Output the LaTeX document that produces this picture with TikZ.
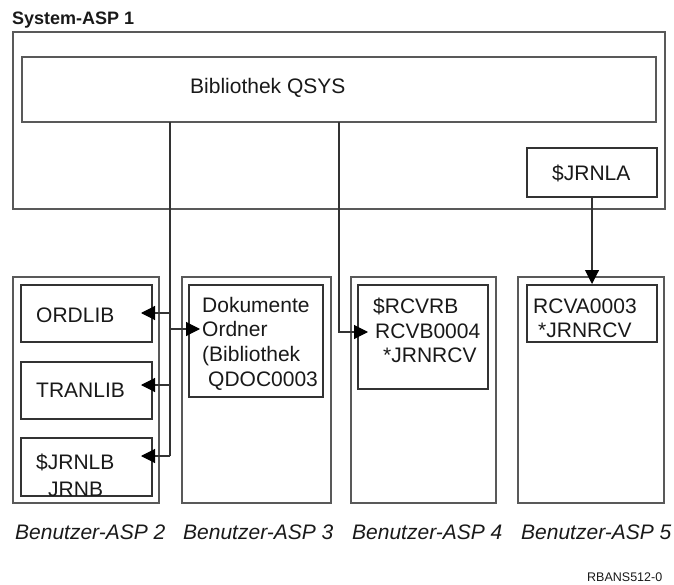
\documentclass[tikz,border=0pt]{standalone}
\usepackage{fontspec}
\setmainfont{Liberation Sans}
\usetikzlibrary{arrows.meta}
\begin{document}
\begin{tikzpicture}[x=1pt,y=-1pt,
  outerbox/.style={draw=black!65,line width=1.3pt,inner sep=0pt,outer sep=0pt,anchor=north west},
  innerbox/.style={draw=black!80,line width=1.1pt,inner sep=0pt,outer sep=0pt,anchor=north west},
  txt/.style={anchor=base west,inner sep=0pt,text=black!90,font=\fontsize{21}{25}\selectfont},
  lbl/.style={txt,font=\fontsize{21}{25}\selectfont\itshape},
  conn/.style={draw=black!80,line width=1.1pt},
  arr/.style={conn,-{Triangle[length=14pt,width=14pt,fill=black,color=black]}}]
\useasboundingbox (0,0) rectangle (674,585);
% system ASP
\node[anchor=base west,inner sep=0pt,text=black!90,font=\fontsize{18}{22}\selectfont\bfseries] (title) at (12,25) {System-ASP 1};
\node[outerbox,minimum width=652pt,minimum height=177pt] (sys) at (13,32) {};
\node[outerbox,minimum width=634pt,minimum height=65pt] (qsys) at (22,57) {};
\node[txt] (tqsys) at (190,94) {Bibliothek QSYS};
\node[innerbox,minimum width=130pt,minimum height=49pt] (jrnla) at (527,148) {};
\node[txt] (tjrnla) at (552,181) {\$JRNLA};
% user ASPs
\node[outerbox,minimum width=146pt,minimum height=226pt] (asp2) at (13,277) {};
\node[outerbox,minimum width=149pt,minimum height=226pt] (asp3) at (182,277) {};
\node[outerbox,minimum width=145pt,minimum height=226pt] (asp4) at (351,277) {};
\node[outerbox,minimum width=146pt,minimum height=226pt] (asp5) at (518,277) {};
\node[innerbox,minimum width=131pt,minimum height=57pt] (ordlib) at (21,285) {};
\node[innerbox,minimum width=131pt,minimum height=57pt] (tranlib) at (21,362) {};
\node[innerbox,minimum width=131pt,minimum height=58pt] (jrnlb) at (21,438) {};
\node[innerbox,minimum width=134pt,minimum height=112pt] (doku) at (189,285) {};
\node[innerbox,minimum width=130pt,minimum height=104pt] (rcvb) at (358,285) {};
\node[innerbox,minimum width=130pt,minimum height=57pt] (rcva) at (527,285) {};
% texts
\node[txt] (tord) at (36,322) {ORDLIB};
\node[txt] (ttran) at (36,397) {TRANLIB};
\node[txt] (tjb1) at (36,469) {\$JRNLB};
\node[txt] (tjb2) at (48,496) {JRNB};
\node[txt] (td1) at (202,312) {Dokumente};
\node[txt] (td2) at (202,336) {Ordner};
\node[txt] (td3) at (202,361) {(Bibliothek};
\node[txt] (td4) at (208,386) {QDOC0003};
\node[txt] (tb1) at (373,313) {\$RCVRB};
\node[txt] (tb2) at (375,338) {RCVB0004};
\node[txt] (tb3) at (383,362) {*JRNRCV};
\node[txt] (ta1) at (533,313) {RCVA0003};
\node[txt] (ta2) at (538,337) {*JRNRCV};
\node[lbl] (l2) at (15,539) {Benutzer-ASP 2};
\node[lbl] (l3) at (183,539) {Benutzer-ASP 3};
\node[lbl] (l4) at (352,539) {Benutzer-ASP 4};
\node[lbl] (l5) at (521,539) {Benutzer-ASP 5};
\node[anchor=base west,inner sep=0pt,text=black!90,font=\fontsize{12.5}{15}\selectfont] (code) at (587,581) {RBANS512-0};
% connectors
\coordinate (ja) at (170,456);
\coordinate (jo) at (170,313);
\coordinate (jt) at (170,385);
\coordinate (jd) at (170,329);
\coordinate (jb) at (339,332);
\draw[conn] (qsys.south -| ja) -- (ja);
\draw[arr,shorten >=-11pt] (ja) -- (jrnlb.east |- ja);
\draw[arr,shorten >=-11pt] (jo) -- (ordlib.east |- jo);
\draw[arr,shorten >=-11pt] (jt) -- (tranlib.east |- jt);
\draw[arr,shorten >=-11pt] (jd) -- (doku.west |- jd);
\draw[arr,shorten >=-10pt] (qsys.south -| jb) -- (jb) -- (rcvb.west |- jb);
\draw[arr,shorten >=1pt] (jrnla.south) -- (rcva.north);
\end{tikzpicture}
\end{document}
